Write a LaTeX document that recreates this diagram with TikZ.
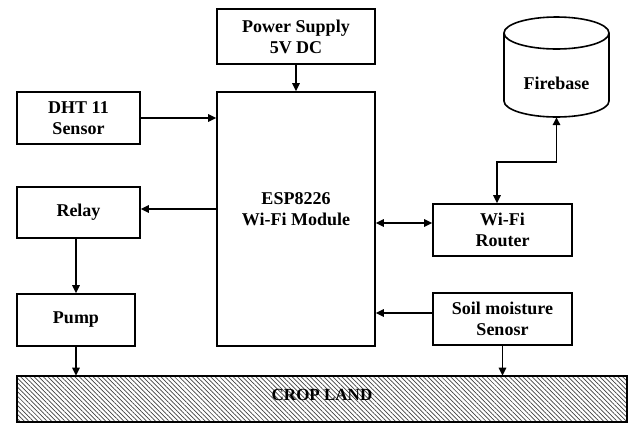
\documentclass[tikz,border=0pt]{standalone}
\usepackage{fontspec}
\setmainfont{Liberation Serif}
\usetikzlibrary{arrows.meta,patterns.meta,calc}
\begin{document}
\begin{tikzpicture}[x=1pt,y=-1pt,
  box/.style={draw,line width=1.6pt,rectangle,inner sep=0pt,align=center,
    font=\fontsize{18}{21}\selectfont\bfseries},
  lbl/.style={inner sep=0pt,align=center,font=\fontsize{18}{21}\selectfont\bfseries},
  arr/.style={line width=1.6pt,-{Triangle[length=8pt,width=7.5pt]}},
  darr/.style={line width=1.6pt,{Triangle[length=8pt,width=7.5pt]}-{Triangle[length=8pt,width=7.5pt]}}]
\useasboundingbox (0,0) rectangle (633,424);
% boxes
\node[box,minimum width=158,minimum height=55] (power) at (296,36.5) {Power Supply\\5V DC};
\node[box,minimum width=158,minimum height=254] (esp) at (296,219) {};
\node[lbl] (esplabel) at (296,209) {ESP8226\\Wi-Fi Module};
\node[box,minimum width=123,minimum height=52] (dht) at (78.5,118) {DHT 11\\Sensor};
\node[box,minimum width=123,minimum height=51] (relay) at (78.5,212.5) {Relay};
\node[box,minimum width=118,minimum height=52] (pump) at (76,320) {Pump};
\node[box,minimum width=139,minimum height=52] (router) at (502.5,230) {Wi-Fi\\Router};
\node[box,minimum width=139,minimum height=52] (soil) at (502.5,319) {Soil moisture\\Senosr};
\node[box,minimum width=610,minimum height=46,
  pattern={Lines[angle=-45,distance=3.2pt,line width=0.7pt]},pattern color=black!75] (crop) at (322,399) {};
\node[lbl,font=\fontsize{17}{20}\selectfont\bfseries] (croplabel) at (322,395) {CROP LAND};
% Firebase cylinder
\draw[line width=1.6pt,fill=white] (504,33) -- (504,101) arc[start angle=180,end angle=0,x radius=52.5,y radius=16] -- (609,33);
\draw[line width=1.6pt] (556.5,33) ellipse[x radius=52.5,y radius=16];
\node[inner sep=0pt,minimum width=105,minimum height=100] (fb) at (556.5,67) {};
\node[lbl] (fblabel) at (556.5,83) {Firebase};
% connectors
\draw[arr] (power.south) -- (esp.north);
\draw[arr] (dht.east) -- (dht.east -| esp.west);
\draw[arr] ([yshift=3.5pt]relay.east -| esp.west) -- ([yshift=3.5pt]relay.east);
\draw[arr] (pump.north |- relay.south) -- (pump.north);
\draw[arr] (pump.south) -- (pump.south |- crop.north);
\draw[darr] ([yshift=7pt]router.west -| esp.east) -- ([yshift=7pt]router.west);
\draw[arr] ([yshift=6pt]soil.west) -- ([yshift=6pt]soil.west -| esp.east);
\draw[arr] (soil.south) -- (soil.south |- crop.north);
\draw[darr] (fb.south) -- ++(0,45) -| ([xshift=-5.5pt]router.north);
\end{tikzpicture}
\end{document}
